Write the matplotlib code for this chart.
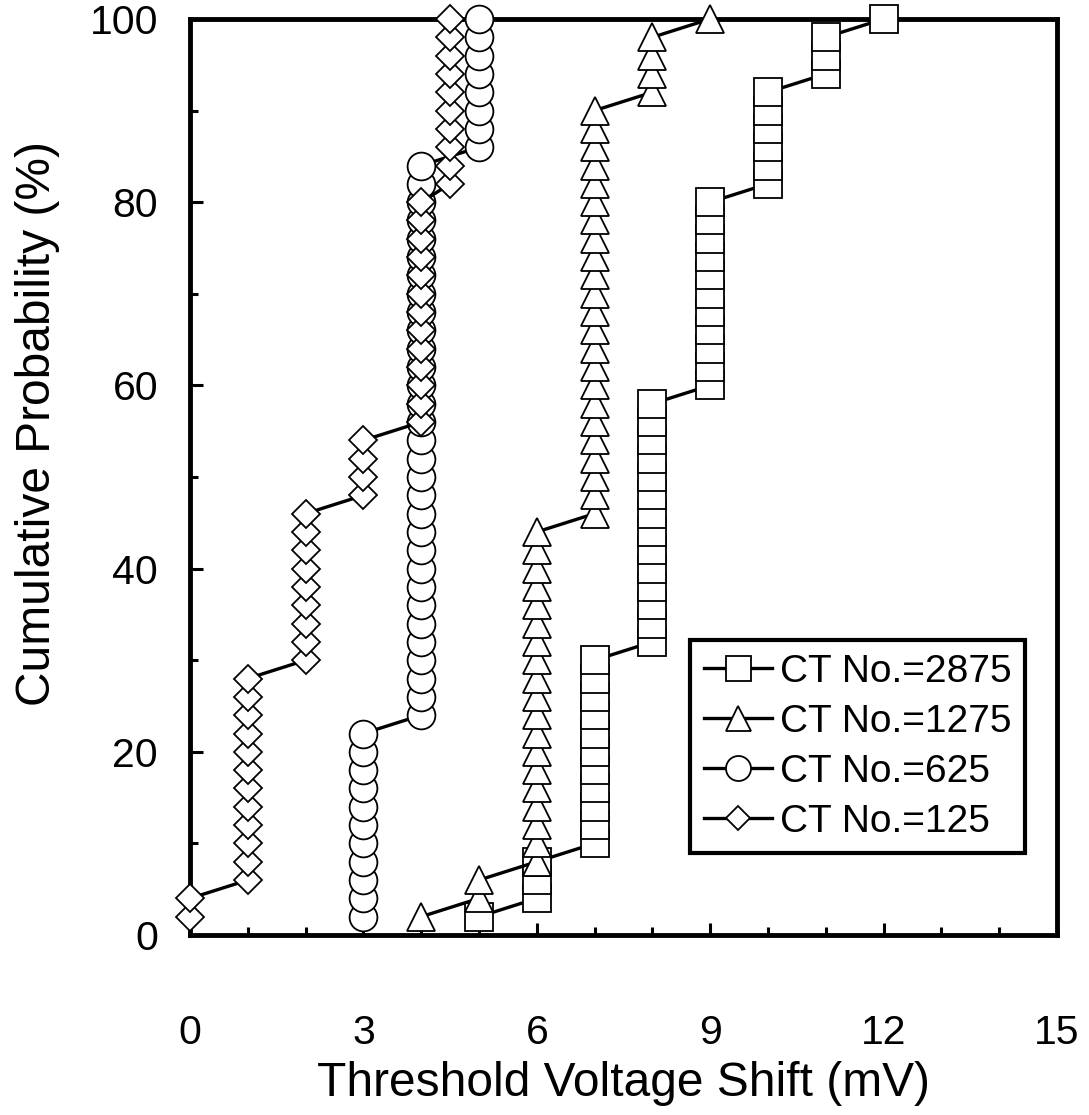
import numpy as np
import matplotlib
matplotlib.use("Agg")
import matplotlib.pyplot as plt

plt.rcParams['font.family'] = ['Liberation Sans', 'DejaVu Sans']

# cumulative probability steps of 2 %, one point per device (50 per series)
prob = np.arange(2, 101, 2)

# threshold voltage shift (mV) per series
x_2875 = [5]*1 + [6]*3 + [7]*11 + [8]*14 + [9]*11 + [10]*6 + [11]*3 + [12]*1
x_1275 = [4]*1 + [5]*2 + [6]*19 + [7]*23 + [8]*4 + [9]*1
x_625 = [3]*11 + [4]*31 + [5]*8
x_125 = [0]*2 + [1]*12 + [2]*9 + [3]*4 + [4]*13 + [4.5]*10

series = [
    (x_2875, 's', 20, 'CT No.=2875'),
    (x_1275, '^', 20, 'CT No.=1275'),
    (x_625, 'o', 20, 'CT No.=625'),
    (x_125, 'D', 14, 'CT No.=125'),
]

fig = plt.figure(figsize=(10.89, 11.15), dpi=100)
ax = fig.add_axes([0.1745, 0.1614, 0.796, 0.8216])

for i, (xv, mk, ms, lab) in enumerate(series):
    ax.plot(xv, prob, color='black', lw=2.4, marker=mk, ms=ms,
            mfc='white', mec='black', mew=1.3, label=lab,
            clip_on=False, zorder=3 + i)

ax.set_xlim(0, 15)
ax.set_ylim(0, 100)
ax.set_xticks(np.arange(0, 16, 3))
ax.set_xticks(np.arange(0, 16, 1), minor=True)
ax.set_yticks(np.arange(0, 101, 20))
ax.set_yticks(np.arange(0, 101, 10), minor=True)

for s in ax.spines.values():
    s.set_linewidth(3.5)

ax.tick_params(axis='both', which='major', direction='in', length=9,
               width=2.2, labelsize=29.5)
ax.tick_params(axis='both', which='minor', direction='in', length=5.5,
               width=2.2)
ax.tick_params(axis='x', which='major', pad=57)
ax.tick_params(axis='y', which='major', pad=23)

ax.set_xlabel('Threshold Voltage Shift (mV)', fontsize=34.5)
ax.set_ylabel('Cumulative Probability (%)', fontsize=34.5)
ax.xaxis.set_label_coords(0.5, -0.138)
ax.yaxis.set_label_coords(-0.15, 0.558)

leg = ax.legend(loc='upper left', bbox_to_anchor=(0.577, 0.322),
                borderaxespad=0, fontsize=28, handlelength=1.75,
                handletextpad=0.2, labelspacing=0.36, borderpad=0.35,
                fancybox=False, framealpha=1, markerscale=0.9)
leg.get_frame().set_edgecolor('black')
leg.get_frame().set_linewidth(3)

fig.savefig('out.png', dpi=100)
